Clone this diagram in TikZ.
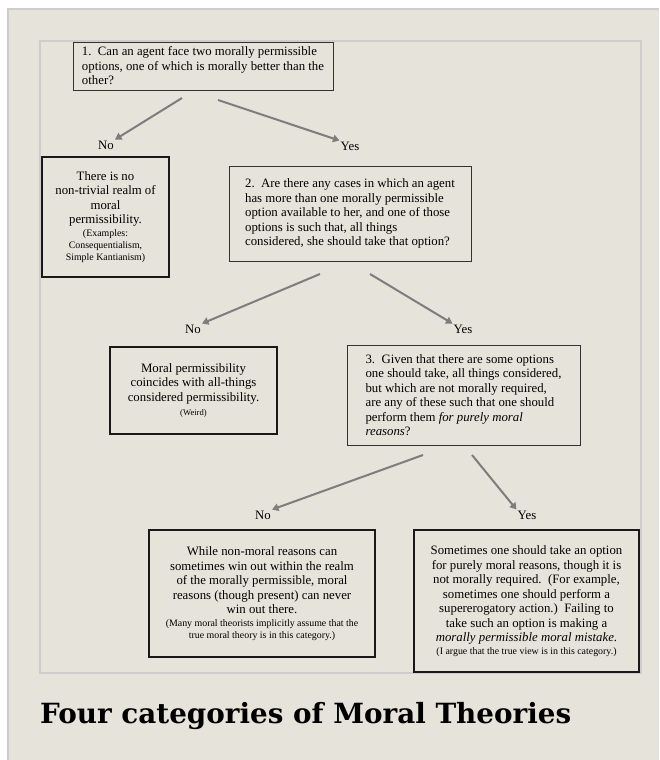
\documentclass[tikz,border=0pt]{standalone}
\usepackage{fontspec}
\setmainfont{Liberation Serif}
\newfontfamily\titlefont{DejaVu Serif}
\usetikzlibrary{arrows.meta}
\definecolor{paper}{HTML}{E6E3DA}
\definecolor{rulegray}{HTML}{CDCDCD}
\definecolor{arrowgray}{HTML}{7D7D7D}
\newcommand{\sm}{\fontsize{9.9}{11}\selectfont}
\newcommand{\tn}{\fontsize{8.6}{10}\selectfont}

\begin{document}
\begin{tikzpicture}[x=1pt, y=-1pt,
    qbox/.style={draw=black!80, line width=0.9pt, align=left, inner sep=0pt, font=\fontsize{12.8}{14.5}\selectfont},
    abox/.style={draw=black!90, line width=2.4pt, align=center, inner sep=0pt, font=\fontsize{12.8}{14.5}\selectfont},
    ans/.style={font=\fontsize{12.8}{14}\selectfont, inner sep=1pt},
    arr/.style={-{Triangle[length=6.5pt,width=7.5pt]}, draw=arrowgray, line width=2pt}]
    \useasboundingbox (0,0) rectangle (659,760);
    \fill[white] (0,0) rectangle (659,760);
    \fill[paper] (8,9) rectangle (659,760);
    \draw[rulegray, line width=1.5pt] (8,760) -- (8,9) -- (659,9);
    \draw[rulegray, line width=1.5pt] (40,41) rectangle (641,673);

    % question 1
    \node[qbox, minimum width=260, minimum height=48] (q1) at (203,66)
      {1.\ \ Can an agent face two morally permissible\\options, one of which is morally better than the\\other?};
    \node[ans] (no1) at (106,145) {No};
    \node[ans] (yes1) at (350,146) {Yes};
    \coordinate (q1l) at (182,98);
    \coordinate (q1r) at (218,100);
    \draw[arr] (q1l) -- (no1.north east);
    \draw[arr] (q1r) -- (yes1.north west);

    \node[abox, minimum width=127, minimum height=120] (cat1) at (105.5,217)
      {There is no\\non-trivial realm of\\moral\\permissibility.\\[-2pt]\sm (Examples:\\[-2.5pt]\sm Consequentialism,\\[-2.5pt]\sm Simple Kantianism)};

    % question 2
    \node[qbox, minimum width=242, minimum height=95] (q2) at (350,213.5)
      {2.\ \ Are there any cases in which an agent\\has more than one morally permissible\\option available to her, and one of those\\options is such that, all things\\considered, she should take that option?};
    \node[ans] (no2) at (193,329) {No};
    \node[ans] (yes2) at (463,329) {Yes};
    \coordinate (q2l) at (320,274);
    \coordinate (q2r) at (370,274);
    \draw[arr] (q2l) -- (no2.north east);
    \draw[arr] (q2r) -- (yes2.north west);

    \node[abox, minimum width=167, minimum height=87] (cat2) at (193.5,390.5)
      {Moral permissibility\\coincides with all-things\\considered permissibility.\\\tn (Weird)};

    % question 3
    \node[qbox, minimum width=233, minimum height=100] (q3) at (463.5,395)
      {3.\ \ Given that there are some options\\one should take, all things considered,\\but which are not morally required,\\are any of these such that one should\\perform them \emph{for purely moral}\\\emph{reasons}?};
    \node[ans] (no3) at (263,515) {No};
    \node[ans] (yes3) at (527,515) {Yes};
    \coordinate (q3l) at (423,455);
    \coordinate (q3r) at (472,455);
    \draw[arr] (q3l) -- (no3.north east);
    \draw[arr] (q3r) -- (yes3.north west);

    \node[abox, minimum width=226, minimum height=127] (cat3) at (262,593.5)
      {While non-moral reasons can\\sometimes win out within the realm\\of the morally permissible, moral\\reasons (though present) can never\\win out there.\\[-2pt]\sm (Many moral theorists implicitly assume that the\\[-2.5pt]\sm true moral theory is in this category.)};
    \node[abox, minimum width=225, minimum height=142] (cat4) at (526.5,601)
      {Sometimes one should take an option\\for purely moral reasons, though it is\\not morally required.\ \ (For example,\\sometimes one should perform a\\supererogatory action.)\ \ Failing to\\take such an option is making a\\\emph{morally permissible moral mistake}.\\[-2pt]\sm (I argue that the true view is in this category.)};

    \node[anchor=base west, inner sep=0pt, font=\titlefont\bfseries\fontsize{27.8}{30}\selectfont] (title) at (40,723)
      {Four categories of Moral Theories};
\end{tikzpicture}
\end{document}
